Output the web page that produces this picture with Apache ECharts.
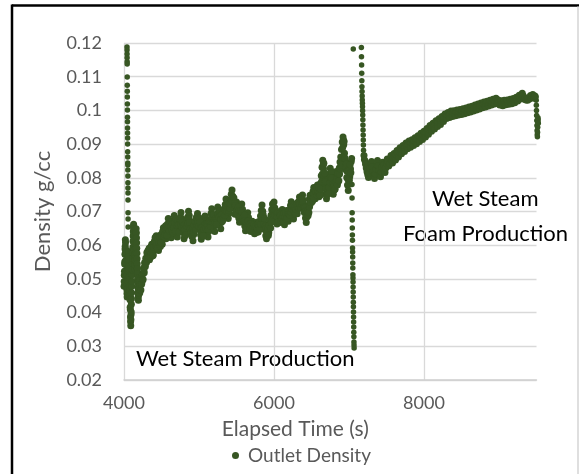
<!DOCTYPE html>
<html>
<head>
<meta charset="utf-8">
<script src="https://cdn.jsdelivr.net/npm/echarts@6/dist/echarts.min.js"></script>
<style>
html,body{margin:0;padding:0;background:#fff;}
#chart{width:582px;height:474px;}
</style>
</head>
<body>
<div id="chart"></div>
<script>
// ---- data (Elapsed Time in s, Outlet Density in g/cc) ----
const seriesName = 'Outlet Density';
const xTicks = [4000, 6000, 8000];
const yTicks = [0.02, 0.03, 0.04, 0.05, 0.06, 0.07, 0.08, 0.09, 0.1, 0.11, 0.12];

// start-up burst, sampled every 2 s from 4000 s to 4198 s
const burstStart = 4000, burstStep = 2;
const burstValues = [
  0.0478,0.0492,0.0511,0.0523,0.0544,0.0551,0.0573,0.0589,0.0597,0.0616,
  0.0608,0.0587,0.0579,0.0556,0.0549,0.0527,0.0518,0.0496,0.0488,0.0469,
  0.0457,0.0446,0.0463,0.0471,0.0494,0.0502,0.0524,0.0531,0.0553,0.0568,
  0.0581,0.0566,0.0558,0.0537,0.0529,0.0506,0.0498,0.0477,0.0468,0.0447,
  0.0438,0.0416,0.0409,0.0387,0.0373,0.0361,0.0379,0.0394,0.0402,0.0425,
  0.0441,0.0459,0.0478,0.0493,0.0512,0.0527,0.0546,0.0561,0.0579,0.0594,
  0.0612,0.0627,0.0641,0.0655,0.0662,0.0648,0.0633,0.0617,0.0601,0.0586,
  0.0572,0.0558,0.0543,0.0529,0.0541,0.0557,0.0573,0.0588,0.0604,0.0619,
  0.0634,0.0649,0.0638,0.0622,0.0607,0.0591,0.0576,0.0560,0.0545,0.0531,
  0.0516,0.0502,0.0488,0.0473,0.0459,0.0446,0.0437,0.0452,0.0466,0.0479
];

// initial high-density readings at start-up (vertical run near 4045 s), every 0.5 s
const startColStart = 4040, startColStep = 0.5;
const startColValues = [
  0.1188,0.1179,0.1167,0.1156,0.1144,0.1138,0.1099,0.1075,0.1057,0.1040,0.1019,0.1001,
  0.0980,0.0966,0.0948,0.0933,0.0918,0.0900,0.0877,0.0862,0.0844,0.0838,0.0823,0.0805,
  0.0785,0.0770,0.0755,0.0734,0.0696,0.0678,0.0654
];

// wet steam production, readings every 10 s from 4200 s to 7030 s
const steamStart = 4200, steamStep = 10;
const steamValues = [
  0.0472,0.0458,0.0489,0.0503,0.0491,0.0517,0.0532,0.0518,0.0546,0.0561,
  0.0549,0.0572,0.0584,0.0566,0.0557,0.0579,0.0596,0.0603,0.0588,0.0571,
  0.0586,0.0601,0.0617,0.0628,0.0612,0.0597,0.0584,0.0602,0.0619,0.0631,
  0.0614,0.0603,0.0621,0.0638,0.0652,0.0636,0.0619,0.0642,0.0663,0.0679,
  0.0664,0.0648,0.0631,0.0622,0.0641,0.0659,0.0674,0.0688,0.0671,0.0653,
  0.0636,0.0624,0.0645,0.0663,0.0657,0.0682,0.0697,0.0679,0.0651,0.0638,
  0.0619,0.0627,0.0648,0.0639,0.0662,0.0684,0.0701,0.0688,0.0669,0.0652,
  0.0643,0.0628,0.0613,0.0632,0.0651,0.0667,0.0659,0.0676,0.0694,0.0681,
  0.0662,0.0647,0.0631,0.0618,0.0626,0.0644,0.0663,0.0678,0.0687,0.0671,
  0.0653,0.0638,0.0624,0.0641,0.0659,0.0677,0.0694,0.0708,0.0689,0.0672,
  0.0657,0.0641,0.0659,0.0674,0.0692,0.0713,0.0701,0.0683,0.0666,0.0649,
  0.0668,0.0686,0.0699,0.0684,0.0703,0.0721,0.0737,0.0718,0.0696,0.0679,
  0.0694,0.0713,0.0732,0.0751,0.0764,0.0745,0.0727,0.0709,0.0692,0.0711,
  0.0728,0.0717,0.0699,0.0681,0.0668,0.0686,0.0704,0.0722,0.0707,0.0689,
  0.0672,0.0657,0.0643,0.0661,0.0679,0.0696,0.0682,0.0667,0.0651,0.0641,
  0.0656,0.0671,0.0662,0.0648,0.0634,0.0643,0.0659,0.0668,0.0653,0.0639,
  0.0652,0.0669,0.0687,0.0703,0.0719,0.0701,0.0683,0.0664,0.0646,0.0628,
  0.0619,0.0633,0.0648,0.0637,0.0656,0.0672,0.0689,0.0706,0.0722,0.0708,
  0.0728,0.0711,0.0694,0.0678,0.0663,0.0676,0.0692,0.0681,0.0667,0.0684,
  0.0699,0.0706,0.0689,0.0672,0.0661,0.0674,0.0691,0.0703,0.0688,0.0671,
  0.0684,0.0702,0.0718,0.0729,0.0711,0.0694,0.0678,0.0691,0.0708,0.0722,
  0.0707,0.0693,0.0711,0.0728,0.0743,0.0731,0.0716,0.0733,0.0749,0.0734,
  0.0716,0.0698,0.0681,0.0667,0.0684,0.0702,0.0719,0.0736,0.0748,0.0731,
  0.0727,0.0742,0.0759,0.0771,0.0754,0.0738,0.0752,0.0767,0.0779,0.0761,
  0.0744,0.0762,0.0783,0.0806,0.0831,0.0852,0.0827,0.0801,0.0776,0.0752,
  0.0738,0.0757,0.0776,0.0794,0.0811,0.0828,0.0809,0.0788,0.0769,0.0751,
  0.0763,0.0782,0.0801,0.0819,0.0804,0.0786,0.0808,0.0829,0.0847,0.0862,
  0.0884,0.0906,0.0921,0.0898,0.0873,0.0849,0.0824,0.0801,0.0779,0.0762,
  0.0781,0.0803,0.0826,0.0848
];

// wet steam production, in-between readings every 10 s from 4205 s to 7035 s
const steamMidStart = 4205, steamMidStep = 10;
const steamMidValues = [
  0.0495,0.0481,0.0467,0.0484,0.0512,0.0498,0.0525,0.0549,0.0537,0.0552,
  0.0578,0.0559,0.0563,0.0591,0.0582,0.0564,0.0577,0.0586,0.0569,0.0594,
  0.0612,0.0623,0.0598,0.0605,0.0591,0.0618,0.0609,0.0624,0.0596,0.0607,
  0.0627,0.0641,0.0652,0.0625,0.0631,0.0658,0.0647,0.0629,0.0651,0.0661,
  0.0642,0.0668,0.0657,0.0646,0.0663,0.0637,0.0652,0.0668,0.0641,0.0677,
  0.0659,0.0672,0.0661,0.0639,0.0678,0.0661,0.0673,0.0652,0.0668,0.0657,
  0.0646,0.0663,0.0631,0.0658,0.0677,0.0664,0.0679,0.0667,0.0648,0.0637,
  0.0626,0.0652,0.0638,0.0659,0.0672,0.0646,0.0683,0.0661,0.0668,0.0657,
  0.0681,0.0669,0.0652,0.0639,0.0654,0.0628,0.0648,0.0659,0.0664,0.0649,
  0.0664,0.0659,0.0647,0.0668,0.0672,0.0656,0.0671,0.0683,0.0667,0.0691,
  0.0673,0.0668,0.0681,0.0662,0.0679,0.0691,0.0684,0.0702,0.0689,0.0676,
  0.0691,0.0672,0.0683,0.0708,0.0689,0.0701,0.0714,0.0699,0.0721,0.0703,
  0.0723,0.0709,0.0721,0.0738,0.0742,0.0728,0.0741,0.0724,0.0718,0.0699,
  0.0703,0.0691,0.0713,0.0702,0.0688,0.0701,0.0689,0.0697,0.0681,0.0676,
  0.0689,0.0673,0.0668,0.0652,0.0664,0.0671,0.0662,0.0649,0.0663,0.0657,
  0.0644,0.0652,0.0641,0.0661,0.0653,0.0657,0.0638,0.0649,0.0662,0.0661,
  0.0671,0.0648,0.0662,0.0679,0.0684,0.0691,0.0662,0.0679,0.0658,0.0649,
  0.0641,0.0652,0.0629,0.0659,0.0673,0.0651,0.0668,0.0684,0.0697,0.0689,
  0.0702,0.0689,0.0703,0.0697,0.0684,0.0698,0.0671,0.0694,0.0689,0.0673,
  0.0681,0.0688,0.0671,0.0694,0.0683,0.0697,0.0676,0.0681,0.0698,0.0694,
  0.0703,0.0688,0.0697,0.0709,0.0721,0.0716,0.0703,0.0712,0.0693,0.0706,
  0.0723,0.0714,0.0729,0.0709,0.0722,0.0712,0.0738,0.0721,0.0728,0.0714,
  0.0697,0.0712,0.0703,0.0691,0.0701,0.0688,0.0697,0.0714,0.0727,0.0744,
  0.0748,0.0731,0.0741,0.0752,0.0766,0.0759,0.0771,0.0748,0.0758,0.0771,
  0.0756,0.0748,0.0766,0.0789,0.0811,0.0838,0.0843,0.0814,0.0789,0.0768,
  0.0749,0.0767,0.0753,0.0771,0.0786,0.0801,0.0819,0.0799,0.0781,0.0772,
  0.0779,0.0766,0.0789,0.0797,0.0779,0.0812,0.0791,0.0811,0.0826,0.0838,
  0.0861,0.0889,0.0913,0.0908,0.0859,0.0831,0.0842,0.0819,0.0796,0.0821,
  0.0792,0.0839,0.0815,0.0857
];

// drop at the end of wet steam production, every 1 s from 7040 s
const dropStart = 7040, dropStep = 1;
const dropValues = [
  0.0780,0.0740,0.0696,0.0675,0.0651,0.0630,0.0615,0.0592,0.0580,0.0565,
  0.0547,0.0532,0.0512,0.0503,0.0491,0.0476,0.0461,0.0446,0.0431,0.0417,
  0.0402,0.0387,0.0372,0.0357,0.0342,0.0328,0.0313,0.0304,0.0295
];

// isolated high reading at the switch-over
const jumpTimes = [7057];
const jumpValues = [0.1182];

// recovery after switch-over, every 1.5 s from 7165 s
const recoverStart = 7165, recoverStep = 1.5;
const recoverValues = [
  0.1187,0.1159,0.1135,0.1110,0.1088,0.1070,0.1056,0.1043,0.1031,0.1021,0.1011,
  0.0999,0.0986,0.0972,0.0957,0.0942,0.0927,0.0912,0.0897,0.0882,0.0868,0.0855
];

// wet steam foam production, every 10 s from 7200 s to 9480 s
const foamStart = 7200, foamStep = 10;
const foamValues = [
  0.0866,0.0852,0.0841,0.0829,0.0818,0.0809,0.0801,0.0814,0.0829,0.0843,
  0.0848,0.0833,0.0819,0.0806,0.0798,0.0811,0.0826,0.0839,0.0851,0.0836,
  0.0822,0.0809,0.0803,0.0817,0.0832,0.0846,0.0838,0.0824,0.0816,0.0829,
  0.0843,0.0856,0.0847,0.0835,0.0842,0.0857,0.0866,0.0851,0.0844,0.0859,
  0.0872,0.0864,0.0853,0.0868,0.0881,0.0873,0.0862,0.0877,0.0889,0.0881,
  0.0871,0.0884,0.0896,0.0887,0.0878,0.0891,0.0903,0.0894,0.0886,0.0899,
  0.0909,0.0898,0.0891,0.0904,0.0913,0.0902,0.0896,0.0909,0.0919,0.0908,
  0.0901,0.0914,0.0925,0.0916,0.0908,0.0921,0.0932,0.0923,0.0914,0.0927,
  0.0938,0.0929,0.0921,0.0934,0.0946,0.0937,0.0929,0.0943,0.0955,0.0946,
  0.0938,0.0951,0.0962,0.0953,0.0945,0.0958,0.0969,0.0961,0.0952,0.0965,
  0.0975,0.0966,0.0958,0.0971,0.0982,0.0974,0.0967,0.0979,0.0989,0.0981,
  0.0976,0.0987,0.0994,0.0985,0.0979,0.0991,0.0998,0.0989,0.0982,0.0993,
  0.0999,0.0990,0.0984,0.0995,0.1001,0.0992,0.0986,0.0997,0.1003,0.0994,
  0.0988,0.0998,0.1005,0.0996,0.0990,0.1001,0.1007,0.0998,0.0993,0.1004,
  0.1010,0.1001,0.0995,0.1006,0.1012,0.1003,0.0998,0.1009,0.1016,0.1007,
  0.1001,0.1012,0.1019,0.1010,0.1004,0.1015,0.1022,0.1013,0.1008,0.1019,
  0.1025,0.1016,0.1010,0.1021,0.1027,0.1018,0.1013,0.1024,0.1030,0.1021,
  0.1016,0.1026,0.1033,0.1024,0.1019,0.1029,0.1036,0.1027,0.1021,0.1031,
  0.1024,0.1016,0.1022,0.1029,0.1020,0.1014,0.1023,0.1030,0.1021,0.1017,
  0.1025,0.1031,0.1022,0.1018,0.1027,0.1033,0.1024,0.1020,0.1029,0.1035,
  0.1027,0.1023,0.1032,0.1039,0.1031,0.1028,0.1037,0.1045,0.1038,0.1034,
  0.1043,0.1051,0.1044,0.1039,0.1033,0.1037,0.1031,0.1035,0.1030,0.1036,
  0.1033,0.1039,0.1044,0.1037,0.1041,0.1047,0.1040,0.1036,0.1043
];

// final drop, every 2 s from 9494 s
const endStart = 9494, endStep = 2;
const endValues = [
  0.1040,0.1030,0.1015,0.1000,0.0985,0.0970,0.0955,0.0940,
  0.0928,0.0922,0.0935,0.0950,0.0965,0.0978,0.0972,0.0962
];

// ---- build points ----
function sampled(start, step, values) {
  return values.map((v, i) => [start + i * step, v]);
}
// continuous runs of readings (dense bands)
const bandPoints = [].concat(
  sampled(burstStart, burstStep, burstValues),
  sampled(steamStart, steamStep, steamValues),
  sampled(steamMidStart, steamMidStep, steamMidValues),
  sampled(foamStart, foamStep, foamValues)
);
// fast transients (isolated dots)
const transientPoints = [].concat(
  sampled(startColStart, startColStep, startColValues),
  sampled(dropStart, dropStep, dropValues),
  jumpTimes.map((t, i) => [t, jumpValues[i]]),
  sampled(recoverStart, recoverStep, recoverValues),
  sampled(endStart, endStep, endValues)
);

const FONT = 'Lato';
const GREY = '#595959';
const DOT = '#375623';
const chart = echarts.init(document.getElementById('chart'), null, {renderer: 'canvas'});
chart.setOption({
  animation: false,
  backgroundColor: '#ffffff',
  grid: {left: 124, top: 43, width: 412.5, height: 337, containLabel: false},
  xAxis: {
    type: 'value', min: 4000, max: 9500, interval: 2000,
    name: 'Elapsed Time (s)', nameLocation: 'middle', nameGap: 39,
    nameTextStyle: {color: GREY, fontFamily: FONT, fontSize: 21, padding: [0, 70, 0, 0]},
    axisLine: {show: true, lineStyle: {color: '#d0d0d0', width: 1.5}},
    axisTick: {show: false},
    axisLabel: {
      color: GREY, fontFamily: FONT, fontSize: 18, margin: 14, showMaxLabel: false,
      formatter: v => (xTicks.indexOf(v) >= 0 ? String(v) : '')
    },
    splitLine: {show: true, showMaxLine: false, lineStyle: {color: '#d9d9d9', width: 1.3}}
  },
  yAxis: {
    type: 'value', min: 0.02, max: 0.12, interval: 0.01,
    name: 'Density g/cc', nameLocation: 'middle', nameGap: 70, nameRotate: 90,
    nameTextStyle: {color: GREY, fontFamily: FONT, fontSize: 22},
    axisLine: {show: false},
    axisTick: {show: false},
    axisLabel: {
      color: GREY, fontFamily: FONT, fontSize: 18, margin: 22,
      formatter: v => {
        const r = Math.round(v * 100) / 100;
        const hit = yTicks.find(t => Math.abs(t - r) < 1e-9);
        return hit === undefined ? '' : String(hit);
      }
    },
    splitLine: {show: true, lineStyle: {color: '#d9d9d9', width: 1.3}}
  },
  legend: {
    show: true, left: 232, top: 446, padding: 0,
    icon: 'circle', itemWidth: 7, itemHeight: 7, itemGap: 10,
    textStyle: {color: GREY, fontFamily: FONT, fontSize: 19, padding: [0, 0, 0, 4]},
    data: [seriesName]
  },
  series: [
    {
      name: seriesName, type: 'scatter', data: transientPoints,
      symbol: 'circle', symbolSize: 5.5, clip: false,
      itemStyle: {color: DOT, opacity: 1}
    },
    {
      name: seriesName, type: 'scatter', data: bandPoints,
      symbol: 'circle', symbolSize: 7, clip: false,
      itemStyle: {color: DOT, opacity: 1}
    }
  ],
  graphic: [
    {type: 'line', shape: {x1: 12, y1: 5.5, x2: 579, y2: 5.5}, style: {stroke: '#000', lineWidth: 2.5}, silent: true},
    {type: 'line', shape: {x1: 12, y1: 4.5, x2: 12, y2: 474}, style: {stroke: '#000', lineWidth: 2.5}, silent: true},
    {type: 'line', shape: {x1: 578, y1: 6, x2: 578, y2: 474}, style: {stroke: '#bfbfbf', lineWidth: 1}, silent: true},
    {type: 'text', left: 136, top: 348, style: {text: 'Wet Steam Production', fill: '#000', font: '22px Lato'}, silent: true},
    {type: 'text', left: 432, top: 188, style: {text: 'Wet Steam', fill: '#000', font: '22px Lato'}, silent: true},
    {type: 'text', left: 403, top: 223, style: {text: 'Foam Production', fill: '#000', font: '22px Lato'}, silent: true}
  ]
});
</script>
</body>
</html>
